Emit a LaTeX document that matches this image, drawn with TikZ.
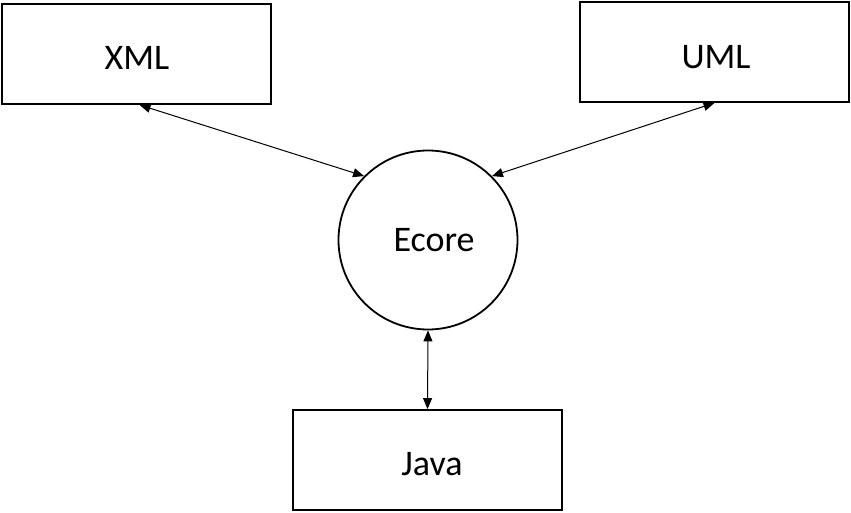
\documentclass[tikz,border=0pt]{standalone}
\usepackage{fontspec}
\setmainfont{Carlito}
\usetikzlibrary{arrows.meta}
\begin{document}
\begin{tikzpicture}[x=1pt,y=-1pt,
  box/.style={draw=black,line width=1.8pt,minimum width=269pt,minimum height=100pt,inner sep=0pt},
  lbl/.style={font=\fontsize{36}{40}\selectfont,inner sep=0pt},
  conn/.style={line width=1pt,{Triangle[length=11pt,width=9pt]}-{Triangle[length=11pt,width=9pt]}}]
\useasboundingbox (0,0) rectangle (851,513);
\node[box] (xml) at (136.5,54) {};
\node[box] (uml) at (714.5,52) {};
\node[box] (java) at (427.5,460) {};
\node[draw=black,line width=1.8pt,circle,minimum size=179pt,inner sep=0pt] (ecore) at (428,240) {};
\node[lbl] (xmlt) at (137,58) {XML};
\node[lbl] (umlt) at (716,57) {UML};
\node[lbl] (javat) at (432,464) {Java};
\node[lbl] (ecoret) at (434,240) {Ecore};
\coordinate (xmls) at ([xshift=3pt]xml.south);
\draw[conn] (xmls) -- (ecore.135);
\draw[conn] (uml.south) -- (ecore.45);
\draw[conn] (java.north) -- (ecore.south);
\end{tikzpicture}
\end{document}
